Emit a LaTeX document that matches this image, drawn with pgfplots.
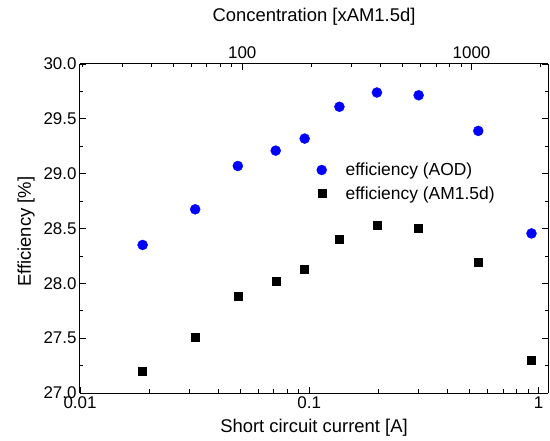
\documentclass[border=0pt]{standalone}
\usepackage{fontspec}
\setmainfont{Liberation Sans}
\usepackage{pgfplots}
\pgfplotsset{compat=1.18}
\begin{document}
\begin{tikzpicture}
\useasboundingbox (0,0) rectangle (550bp,441bp);
\pgfplotsset{
  common/.style={
    at={(80bp,48bp)}, anchor=south west,
    scale only axis, width=468bp, height=329bp,
    ymin=27, ymax=30,
    /pgf/number format/assume math mode=true,
    tick align=inside,
    major tick length=6bp, minor tick length=3.5bp,
    every tick/.style={black, line width=0.8bp},
    axis line style={line width=1bp, black},
    ticklabel style={font=\fontsize{17}{19}\selectfont},
    label style={font=\fontsize{18.5}{21}\selectfont},
  }
}
\begin{axis}[common,
  xmode=log, xmin=0.01, xmax=1.1,
  axis x line*=bottom,
  xtick={0.01,0.1,1}, xticklabels={0.01,0.1,1},
  minor xtick={0.02,0.03,0.04,0.05,0.06,0.07,0.08,0.09,0.2,0.3,0.4,0.5,0.6,0.7,0.8,0.9},
  ytick={27,27.5,28,28.5,29,29.5,30},
  minor y tick num=1,
  yticklabel style={/pgf/number format/fixed, /pgf/number format/fixed zerofill, /pgf/number format/precision=1},
  xlabel={Short circuit current [A]},
  ylabel={Efficiency [\%]},
  xlabel style={at={(axis description cs:0.5,-0.106)}, anchor=center},
  ylabel style={at={(axis description cs:-0.115,0.49)}, anchor=center, rotate=0},
  legend style={draw=none, fill=none, at={(0.499,0.712)}, anchor=north west,
    font=\fontsize{17.5}{20}\selectfont, row sep=5.5bp,
    /tikz/every odd column/.append style={column sep=17bp}},
  legend cell align=left,
]
\addplot[only marks, mark=*, mark size=5bp, color=blue, mark options={draw=blue, fill=blue}] coordinates {
(0.01876,28.35) (0.0318,28.675) (0.0488,29.07) (0.0714,29.21) (0.0955,29.32)
(0.1354,29.61) (0.1974,29.74) (0.300,29.715) (0.546,29.39) (0.932,28.455)
};
\addlegendentry{efficiency (AOD)}
\addplot[only marks, mark=square*, mark size=4bp, color=black] coordinates {
(0.01876,27.195) (0.0318,27.51) (0.0488,27.88) (0.0714,28.02) (0.0955,28.125)
(0.1354,28.405) (0.1974,28.53) (0.300,28.50) (0.546,28.19) (0.932,27.295)
};
\addlegendentry{efficiency (AM1.5d)}
\end{axis}
\begin{axis}[common,
  xmode=log, xmin=19.6, xmax=2156,
  axis x line*=top,
  hide y axis,
  xtick={100,1000}, xticklabels={100,1000},
  minor xtick={20,30,40,50,60,70,80,90,200,300,400,500,600,700,800,900,2000},
  xlabel={Concentration [xAM1.5d]},
  xlabel style={at={(axis description cs:0.5,1.145)}, anchor=center},
  xticklabel style={yshift=2bp},
]
\end{axis}
\end{tikzpicture}
\end{document}
